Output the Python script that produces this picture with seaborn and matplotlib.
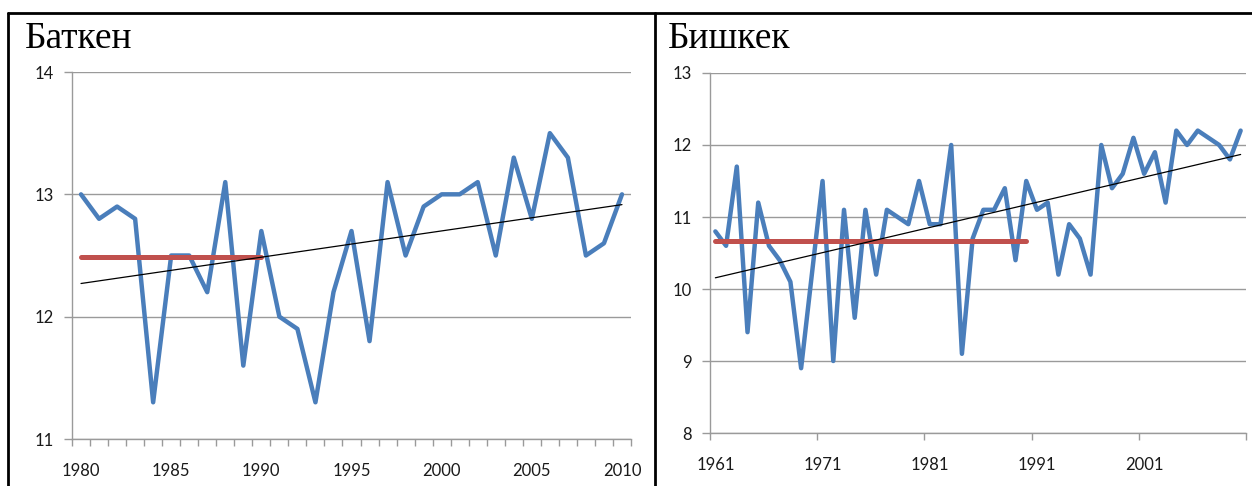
import numpy as np
import matplotlib
matplotlib.use("Agg")
import matplotlib.pyplot as plt
from matplotlib.lines import Line2D
from matplotlib.ticker import FixedLocator
import seaborn as sns

# -----------------------------
# Data
# -----------------------------
batken_years = np.arange(1980, 2011)
batken_temp = [13.0, 12.8, 12.9, 12.8, 11.3, 12.5, 12.5, 12.2, 13.1, 11.6,
               12.7, 12.0, 11.9, 11.3, 12.2, 12.7, 11.8, 13.1, 12.5, 12.9,
               13.0, 13.0, 13.1, 12.5, 13.3, 12.8, 13.5, 13.3, 12.5, 12.6,
               13.0]
batken_base_end = 1990

bishkek_years = np.arange(1961, 2011)
bishkek_temp = [10.8, 10.6, 11.7, 9.4, 11.2, 10.6, 10.4, 10.1, 8.9, 10.2,
                11.5, 9.0, 11.1, 9.6, 11.1, 10.2, 11.1, 11.0, 10.9, 11.5,
                10.9, 10.9, 12.0, 9.1, 10.7, 11.1, 11.1, 11.4, 10.4, 11.5,
                11.1, 11.2, 10.2, 10.9, 10.7, 10.2, 12.0, 11.4, 11.6, 12.1,
                11.6, 11.9, 11.2, 12.2, 12.0, 12.2, 12.1, 12.0, 11.8, 12.2]
bishkek_base_end = 1990

batken_xlabels = [1980, 1985, 1990, 1995, 2000, 2005, 2010]
bishkek_xlabels = [1961, 1971, 1981, 1991, 2001]

# -----------------------------
# Style
# -----------------------------
sns.set_theme(style="white")
plt.rcParams['font.family'] = ['Lato', 'DejaVu Sans']

BLUE = '#4a7ebb'
RED = '#c0504d'
GRID = '#9a9a9a'
TXT = '#1a1a1a'

fig = plt.figure(figsize=(12.52, 4.86), dpi=100)


def draw_panel(ax, years, temp, base_end, ylim, xlabels, minor_ticks, title, title_x):
    years = np.asarray(years)
    temp = np.asarray(temp, dtype=float)
    sns.lineplot(x=years, y=temp, ax=ax, color=BLUE, lw=3.2, zorder=3)
    # baseline = mean of the years up to base_end
    base = years <= base_end
    base_mean = temp[base].mean()
    sns.lineplot(x=years[base], y=np.full(base.sum(), base_mean), ax=ax,
                 color=RED, lw=3.6, zorder=4)
    sns.regplot(x=years, y=temp, ax=ax, scatter=False, ci=None, truncate=True,
                line_kws=dict(color='black', lw=0.9, zorder=5))

    ax.set_xlim(years[0] - 0.5, years[-1] + 0.5)
    ax.set_ylim(*ylim)
    ax.set_xlabel('')
    ax.set_ylabel('')

    ax.set_yticks(np.arange(ylim[0], ylim[1] + 1))
    ax.yaxis.grid(True, color=GRID, lw=1.0)
    ax.xaxis.grid(False)
    ax.set_axisbelow(True)

    ax.set_xticks(xlabels)
    ax.set_xticklabels([str(x) for x in xlabels])
    ax.xaxis.set_minor_locator(FixedLocator(minor_ticks))
    ax.tick_params(axis='x', which='major', length=0, pad=17, labelsize=12, colors=TXT)
    ax.tick_params(axis='x', which='minor', length=5, width=1, color=GRID, direction='out')
    ax.tick_params(axis='y', which='major', length=6, width=1, color=GRID, direction='out',
                   pad=7, labelsize=12, labelcolor=TXT)
    ax.tick_params(axis='both', which='both', bottom=True, left=True)

    for side in ['top', 'right']:
        ax.spines[side].set_visible(False)
    for side in ['left', 'bottom']:
        ax.spines[side].set_color(GRID)
        ax.spines[side].set_linewidth(1.0)

    fig.text(title_x, 1 - 48 / 486, title, family=['Liberation Serif', 'DejaVu Serif'],
             fontsize=27, color='black', ha='left', va='baseline')


ax1 = fig.add_axes([72 / 1252, 1 - 439 / 486, (631 - 72) / 1252, (439 - 72) / 486])
draw_panel(ax1, batken_years, batken_temp, batken_base_end, (11, 14), batken_xlabels,
           np.arange(1979.5, 2011, 1.0), 'Баткен', 25 / 1252)

ax2 = fig.add_axes([710 / 1252, 1 - 433 / 486, (1246 - 710) / 1252, (433 - 73) / 486])
draw_panel(ax2, bishkek_years, bishkek_temp, bishkek_base_end, (8, 13), bishkek_xlabels,
           np.arange(1960.5, 2011, 10.0), 'Бишкек', 668 / 1252)

# table frame around the two panels
top = 1 - 13 / 486
for x0 in [8 / 1252, 655 / 1252]:
    fig.add_artist(Line2D([x0, x0], [0, top], color='black', lw=2))
fig.add_artist(Line2D([8 / 1252, 1], [top, top], color='black', lw=2))

fig.savefig('out.png', dpi=100)
